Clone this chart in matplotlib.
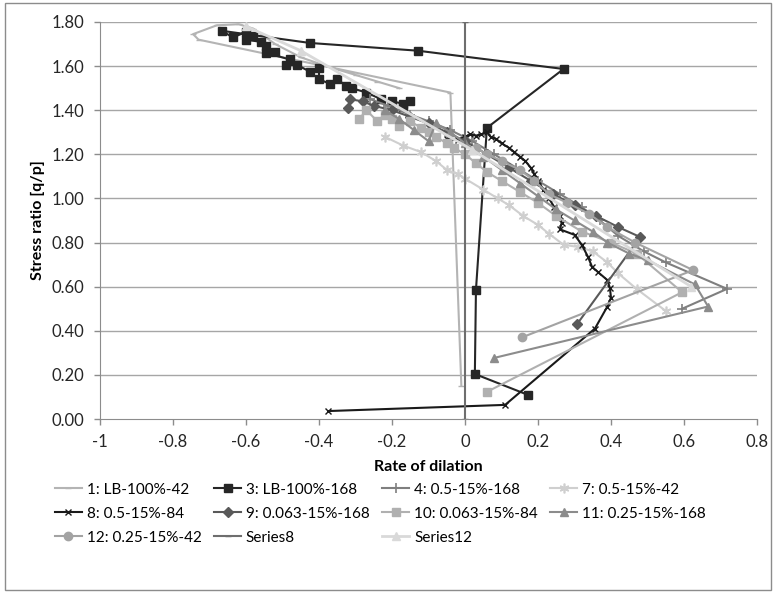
import matplotlib
matplotlib.use("Agg")
import matplotlib.pyplot as plt
from matplotlib.patches import Rectangle

plt.rcParams["font.family"] = ["Lato", "DejaVu Sans"]

# ── data ──────────────────────────────────────────────────────────────────────

# 1: LB-100%-42
s1_x = [-0.01, -0.04, -0.73, -0.745, -0.68, -0.62, -0.58, -0.52, -0.45, -0.38, -0.30, -0.24, -0.18]
s1_y = [0.15, 1.48, 1.72, 1.745, 1.785, 1.79, 1.77, 1.70, 1.64, 1.60, 1.56, 1.53, 1.50]

# 3: LB-100%-168
s3_x = [0.173, 0.027, 0.03, 0.06, 0.27, -0.13, -0.425, -0.666, -0.636, -0.60, -0.58, -0.60,
        -0.56, -0.545, -0.52, -0.545, -0.48, -0.49, -0.46, -0.425, -0.40, -0.40, -0.37,
        -0.35, -0.325, -0.31, -0.27, -0.23, -0.20, -0.17, -0.15, -0.17]
s3_y = [0.109, 0.204, 0.585, 1.32, 1.587, 1.67, 1.705, 1.76, 1.73, 1.755, 1.735, 1.72,
        1.71, 1.69, 1.665, 1.66, 1.63, 1.605, 1.605, 1.575, 1.59, 1.54, 1.52,
        1.54, 1.51, 1.50, 1.48, 1.45, 1.44, 1.43, 1.44, 1.415]

# 4: 0.5-15%-168
s4_x = [-0.26, -0.21, -0.15, -0.10, -0.04, 0.02, 0.08, 0.14, 0.20, 0.26, 0.32, 0.37,
        0.42, 0.49, 0.55, 0.718, 0.595]
s4_y = [1.45, 1.42, 1.38, 1.35, 1.31, 1.26, 1.20, 1.14, 1.08, 1.02, 0.96, 0.90,
        0.83, 0.76, 0.71, 0.59, 0.50]

# 7: 0.5-15%-42
s7_x = [-0.22, -0.17, -0.12, -0.08, -0.05, -0.02, 0.0, 0.05, 0.09, 0.12, 0.16, 0.20,
        0.23, 0.27, 0.31, 0.35, 0.39, 0.42, 0.47, 0.55]
s7_y = [1.28, 1.24, 1.21, 1.17, 1.13, 1.11, 1.09, 1.04, 1.00, 0.97, 0.92, 0.88,
        0.84, 0.79, 0.78, 0.76, 0.71, 0.66, 0.59, 0.49]

# 8: 0.5-15%-84
s8_x = [-0.375, 0.11, 0.356, 0.39, 0.40, 0.397, 0.39, 0.365, 0.348, 0.337, 0.32, 0.30,
        0.26, 0.265, 0.26, 0.245, 0.23, 0.215, 0.20, 0.19, 0.18, 0.165, 0.15, 0.135,
        0.12, 0.10, 0.085, 0.07, 0.06, 0.045, 0.03, 0.015, 0.0, -0.02, -0.05]
s8_y = [0.036, 0.064, 0.41, 0.51, 0.55, 0.594, 0.63, 0.665, 0.69, 0.735, 0.79, 0.835,
        0.86, 0.89, 0.92, 0.96, 1.00, 1.04, 1.08, 1.11, 1.14, 1.17, 1.19, 1.21,
        1.23, 1.25, 1.27, 1.28, 1.30, 1.29, 1.285, 1.29, 1.28, 1.265, 1.27]

# 9: 0.063-15%-168
s9_x = [-0.32, -0.315, -0.28, -0.25, -0.20, -0.15, -0.10, -0.05, 0.0, 0.06, 0.12, 0.18,
        0.24, 0.30, 0.36, 0.42, 0.48, 0.307]
s9_y = [1.41, 1.45, 1.44, 1.42, 1.40, 1.37, 1.34, 1.30, 1.26, 1.20, 1.14, 1.08,
        1.02, 0.97, 0.92, 0.87, 0.825, 0.43]

# 10: 0.063-15%-84
s10_x = [-0.29, -0.27, -0.24, -0.22, -0.20, -0.18, -0.15, -0.12, -0.10, -0.08, -0.05,
         -0.03, 0.0, 0.03, 0.06, 0.10, 0.15, 0.20, 0.25, 0.32, 0.40, 0.47, 0.595, 0.06]
s10_y = [1.36, 1.40, 1.35, 1.38, 1.36, 1.33, 1.35, 1.32, 1.30, 1.28, 1.25,
         1.23, 1.20, 1.16, 1.12, 1.08, 1.03, 0.98, 0.92, 0.85, 0.80, 0.75, 0.575, 0.123]

# 11: 0.25-15%-168
s11_x = [-0.22, -0.18, -0.14, -0.10, -0.08, -0.04, 0.0, 0.05, 0.10, 0.15, 0.20, 0.25,
         0.30, 0.35, 0.39, 0.45, 0.50, 0.63, 0.666, 0.08]
s11_y = [1.40, 1.36, 1.31, 1.26, 1.34, 1.30, 1.25, 1.19, 1.13, 1.07, 1.01, 0.95,
         0.90, 0.85, 0.80, 0.75, 0.72, 0.61, 0.51, 0.277]

# 12: 0.25-15%-42
s12_x = [0.03, 0.06, 0.10, 0.15, 0.19, 0.23, 0.28, 0.34, 0.39, 0.466, 0.625, 0.156]
s12_y = [1.23, 1.20, 1.17, 1.13, 1.08, 1.02, 0.98, 0.93, 0.87, 0.80, 0.675, 0.37]

# Series8 (vertical reference line)
ref8_x = [0.0, 0.0]
ref8_y = [0.0, 1.80]

# Series12
ref12_x = [-0.60, -0.45, 0.02, 0.62]
ref12_y = [1.78, 1.67, 1.22, 0.60]

x_ticks = [-1, -0.8, -0.6, -0.4, -0.2, 0, 0.2, 0.4, 0.6, 0.8]
x_labels = ["-1", "-0.8", "-0.6", "-0.4", "-0.2", "0", "0.2", "0.4", "0.6", "0.8"]
y_ticks = [0.0, 0.2, 0.4, 0.6, 0.8, 1.0, 1.2, 1.4, 1.6, 1.8]

# ── plot ──────────────────────────────────────────────────────────────────────

fig = plt.figure(figsize=(7.76, 5.96), dpi=100)
ax = fig.add_axes([100 / 776, 1 - 419 / 596, 657 / 776, 397 / 596])

fig.patches.append(Rectangle((5 / 776, 6 / 596), 766 / 776, 587 / 596,
                             transform=fig.transFigure, fill=False,
                             edgecolor="#8c8c8c", linewidth=1.0))

for y in y_ticks[1:]:
    ax.axhline(y, color="#a6a6a6", linewidth=1.0, zorder=0)

lw = 1.5
asterisk = (6, 2, 0)
h = {}
h["1"], = ax.plot(s1_x, s1_y, color="#b4b4b4", lw=lw, marker="_", ms=5, label="1: LB-100%-42")
h["3"], = ax.plot(s3_x, s3_y, color="#262626", lw=lw, marker="s", ms=6, label="3: LB-100%-168")
h["4"], = ax.plot(s4_x, s4_y, color="#7f7f7f", lw=lw, marker="+", ms=7, mew=1.2, label="4: 0.5-15%-168")
h["7"], = ax.plot(s7_x, s7_y, color="#cfcfcf", lw=lw, marker=asterisk, ms=7, mew=1.2, label="7: 0.5-15%-42")
h["8"], = ax.plot(s8_x, s8_y, color="#1a1a1a", lw=lw, marker="x", ms=5, mew=1.0, label="8: 0.5-15%-84")
h["9"], = ax.plot(s9_x, s9_y, color="#595959", lw=lw, marker="D", ms=5, label="9: 0.063-15%-168")
h["10"], = ax.plot(s10_x, s10_y, color="#b0b0b0", lw=lw, marker="s", ms=6, label="10: 0.063-15%-84")
h["11"], = ax.plot(s11_x, s11_y, color="#8c8c8c", lw=lw, marker="^", ms=6, label="11: 0.25-15%-168")
h["12"], = ax.plot(s12_x, s12_y, color="#a3a3a3", lw=lw, marker="o", ms=6, label="12: 0.25-15%-42")
h["S8"], = ax.plot(ref8_x, ref8_y, color="#6e6e6e", lw=lw, marker="_", ms=5, label="Series8")
h["S12"], = ax.plot(ref12_x, ref12_y, color="#d9d9d9", lw=2.0, marker="^", ms=6, label="Series12")

ax.set_xlim(-1, 0.8)
ax.set_ylim(0, 1.8)
ax.set_xticks(x_ticks)
ax.set_xticklabels(x_labels)
ax.set_yticks(y_ticks)
ax.set_yticklabels([f"{v:.2f}" for v in y_ticks])
ax.tick_params(labelsize=12, colors="#8c8c8c", labelcolor="#262626", length=4, width=1)
ax.tick_params(axis="x", pad=7)
ax.tick_params(axis="y", pad=7)
for s in ["top", "right"]:
    ax.spines[s].set_visible(False)
ax.spines["left"].set_color("#8c8c8c")
ax.spines["bottom"].set_color("#8c8c8c")

ax.set_xlabel("Rate of dilation", fontsize=11.5, fontweight="bold", labelpad=7)
ax.set_ylabel("Stress ratio [q/p]", fontsize=11.5, fontweight="bold", labelpad=5)

# legend is filled column by column, so order the handles to read row by row
order = ["1", "8", "12", "3", "9", "S8", "4", "10", "S12", "7", "11"]
fig.legend([h[k] for k in order], [h[k].get_label() for k in order],
           loc="center", bbox_to_anchor=(0.49, 0.138), ncol=4, frameon=False,
           fontsize=11, numpoints=1, handlelength=1.8, handletextpad=0.3,
           columnspacing=0.8, labelspacing=0.65)

fig.savefig("out.png", dpi=100)
